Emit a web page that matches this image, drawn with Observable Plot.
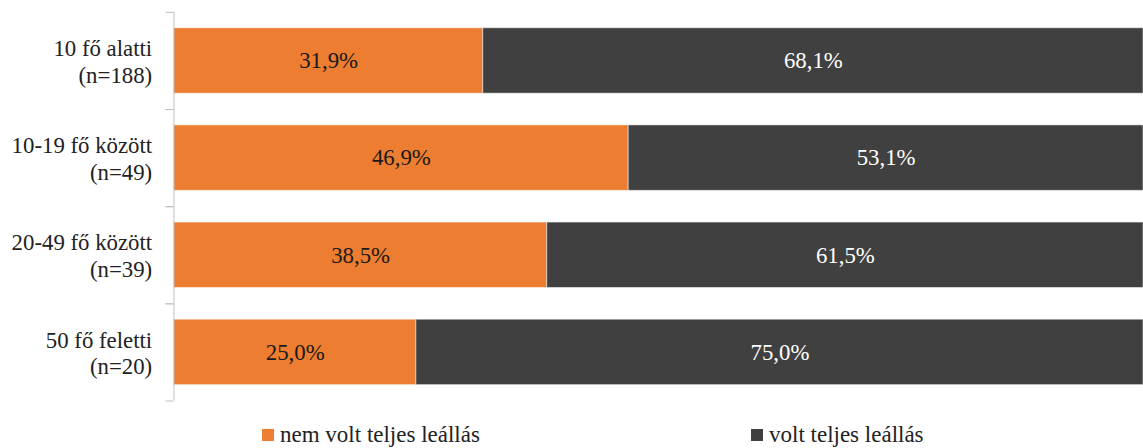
<!DOCTYPE html>
<html>
<head>
<meta charset="utf-8">
<style>
  body { margin: 0; background: #fff; font-family: 'Liberation Serif'; }
  #chart svg { display: block; }
  .leg { position: absolute; top: 421px; font-family: 'Liberation Serif'; font-size: 23px; color: #222; line-height: 28px; white-space: nowrap; }
  .sw { display: inline-block; width: 12px; height: 12px; margin-right: 6px; vertical-align: 1px; }
</style>
</head>
<body>
<div id="wrap" style="position:relative; width:1143px; height:448px; overflow:hidden; font-family:'Liberation Serif'">
  <div id="chart"></div>
  <div id="legend">
    <div class="leg" style="left:262px"><span class="sw" style="background:#ED7D31"></span><span class="lt">nem volt teljes leállás</span></div>
    <div class="leg" style="left:751px"><span class="sw" style="background:#404040"></span><span class="lt">volt teljes leállás</span></div>
  </div>
</div>
<script src="https://cdn.jsdelivr.net/npm/d3@7"></script>
<script src="https://cdn.jsdelivr.net/npm/@observablehq/plot@0.6"></script>
<script>
const categories = ["10 fő alatti", "10-19 fő között", "20-49 fő között", "50 fő feletti"];
const sampleSizes = ["(n=188)", "(n=49)", "(n=39)", "(n=20)"];
const seriesNames = ["nem volt teljes leállás", "volt teljes leállás"];
const nemVolt = [31.9, 46.9, 38.5, 25.0];
const volt = [68.1, 53.1, 61.5, 75.0];
const colors = ["#ED7D31", "#404040"];
const textColors = ["#1a1a1a", "#ffffff"];

const rows = [];
categories.forEach((c, i) => {
  rows.push({cat: c, series: seriesNames[0], value: nemVolt[i]});
  rows.push({cat: c, series: seriesNames[1], value: volt[i]});
});
const fmt = v => v.toFixed(1).replace(".", ",") + "%";
const labelOf = Object.fromEntries(categories.map((c, i) => [c, c + "\n" + sampleSizes[i]]));

const chart = Plot.plot({
  width: 1153,
  height: 412,
  marginLeft: 175,
  marginRight: 0,
  marginTop: 12,
  marginBottom: 8,
  style: {fontFamily: "Liberation Serif", fontSize: "23px", color: "#222", background: "transparent"},
  x: {domain: [0, 100], axis: null},
  y: {domain: categories, paddingInner: 0.33, paddingOuter: 0.165, axis: null, label: null},
  color: {domain: seriesNames, range: colors},
  marks: [
    Plot.barX(rows, Plot.stackX({x: "value", y: "cat", fill: "series", order: seriesNames, stroke: "#ffffff", strokeOpacity: 0.5, strokeWidth: 1})),
    Plot.text(rows, Plot.stackX({x: "value", y: "cat", z: "series", order: seriesNames, text: d => fmt(d.value),
      fill: d => textColors[seriesNames.indexOf(d.series)], fontSize: 23})),
    Plot.ruleX([0], {stroke: "#bfbfbf", strokeWidth: 1}),
    Plot.axisY({tickSize: 8, tickFormat: () => "", label: null, dy: -49, stroke: "#bfbfbf", strokeWidth: 1}),
    Plot.axisY({tickSize: 8, tickFormat: () => "", label: null, dy: 49, stroke: "#bfbfbf", strokeWidth: 1}),
    Plot.text(categories, {x: () => 0, y: d => d, text: d => labelOf[d], textAnchor: "end", dx: -22, lineHeight: 1.17, fontSize: 23, fill: "#222"})
  ]
});
document.getElementById("chart").appendChild(chart);
document.querySelectorAll("#legend .lt").forEach((el, i) => { el.textContent = seriesNames[i]; });
document.querySelectorAll("#legend .sw").forEach((el, i) => { el.style.background = colors[i]; });
</script>
</body>
</html>
